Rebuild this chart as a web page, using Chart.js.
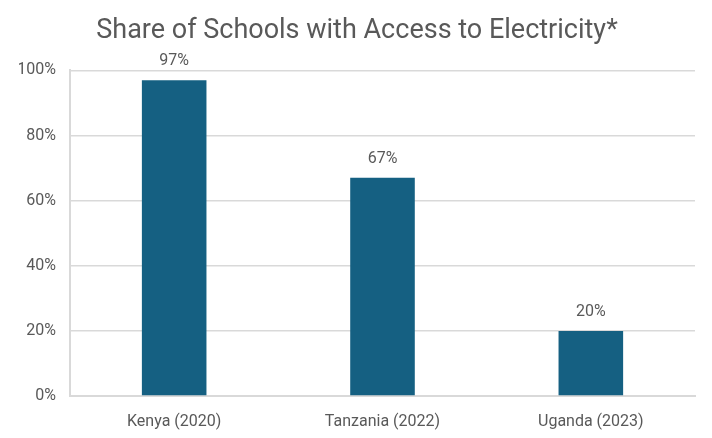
<!DOCTYPE html>
<html>
<head>
<meta charset="utf-8">
<script src="https://cdn.jsdelivr.net/npm/chart.js@4/dist/chart.umd.min.js"></script>
<style>
  html, body { margin: 0; padding: 0; background: #fff; }
  #wrap { width: 712px; height: 438px; }
</style>
</head>
<body>
<div id="wrap"><canvas id="chart"></canvas></div>
<script>
const categories = ['Kenya (2020)', 'Tanzania (2022)', 'Uganda (2023)'];
const shares = [97, 67, 20];
const yTicks = [0, 20, 40, 60, 80, 100];

const textColor = '#595959';
const gridColor = '#d9d9d9';
const fontFamily = 'Roboto, "Open Sans", sans-serif';

// simple label-on-top plugin, positions come from the bar elements
const barLabels = {
    id: 'barLabels',
    afterDatasetsDraw(chart) {
        const ctx = chart.ctx;
        const meta = chart.getDatasetMeta(0);
        ctx.save();
        ctx.font = '16px ' + fontFamily;
        ctx.fillStyle = textColor;
        ctx.textAlign = 'center';
        ctx.textBaseline = 'bottom';
        meta.data.forEach((bar, i) => {
            ctx.fillText(shares[i] + '%', bar.x, bar.y - 11);
        });
        ctx.restore();
    }
};

new Chart('chart', {
    type: 'bar',
    data: {
        labels: categories,
        datasets: [{
            data: shares,
            backgroundColor: '#156082',
            categoryPercentage: 1,
            barPercentage: 0.31
        }]
    },
    options: {
        responsive: true,
        maintainAspectRatio: false,
        animation: false,
        layout: { padding: { left: 19, right: 17, bottom: 0 } },
        plugins: {
            legend: { display: false },
            tooltip: { enabled: false },
            title: {
                display: true,
                text: 'Share of Schools with Access to Electricity*',
                color: textColor,
                font: { family: fontFamily, size: 27, weight: 'normal' },
                padding: { top: 15, bottom: 23 }
            }
        },
        scales: {
            x: {
                afterFit(scale) { scale.height = 42; },
                grid: { display: false },
                border: { display: true, color: gridColor, width: 2 },
                ticks: {
                    color: textColor,
                    font: { family: fontFamily, size: 16 },
                    padding: 8
                }
            },
            y: {
                min: 0,
                max: 100,
                afterBuildTicks(scale) {
                    scale.ticks = yTicks.map(v => ({ value: v }));
                },
                afterFit(scale) { scale.width = 51; },
                grid: { color: gridColor, lineWidth: 1.5, drawTicks: false },
                border: { display: true, color: gridColor, width: 2 },
                ticks: {
                    color: textColor,
                    font: { family: fontFamily, size: 16 },
                    padding: 14,
                    callback: v => v + '%'
                }
            }
        }
    },
    plugins: [barLabels]
});
</script>
</body>
</html>
